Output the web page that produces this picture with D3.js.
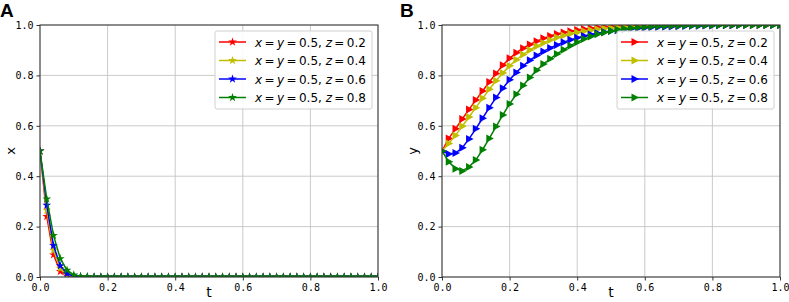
<!DOCTYPE html>
<html>
<head>
<meta charset="utf-8">
<script src="https://cdn.jsdelivr.net/npm/d3@7"></script>
<style>
  body { margin: 0; background: #fff; }
  svg { display: block; }
  .tick text { font-family: "DejaVu Sans Mono", monospace; font-size: 10px; fill: #000; }
  .legend text { font-family: "DejaVu Sans", sans-serif; font-size: 12px; }
</style>
</head>
<body>
<svg id="chart" width="789" height="302"></svg>
<script>
// sample times
const tValues = [0, 0.02, 0.04, 0.06, 0.08, 0.1, 0.12, 0.14, 0.16, 0.18, 0.2,
  0.22, 0.24, 0.26, 0.28, 0.3, 0.32, 0.34, 0.36, 0.38, 0.4,
  0.42, 0.44, 0.46, 0.48, 0.5, 0.52, 0.54, 0.56, 0.58, 0.6,
  0.62, 0.64, 0.66, 0.68, 0.7, 0.72, 0.74, 0.76, 0.78, 0.8,
  0.82, 0.84, 0.86, 0.88, 0.9, 0.92, 0.94, 0.96, 0.98, 1.0];

const seriesLabels = ['0.2', '0.4', '0.6', '0.8'];   // z values
const tickLabels = [0, 0.2, 0.4, 0.6, 0.8, 1.0];

// panel A : x(t)
const xRed = [0.5, 0.24, 0.088, 0.022, 0.004, 0.001, 0, 0, 0, 0, 0,
  0, 0, 0, 0, 0, 0, 0, 0, 0, 0, 0, 0, 0, 0, 0, 0, 0, 0, 0, 0,
  0, 0, 0, 0, 0, 0, 0, 0, 0, 0, 0, 0, 0, 0, 0, 0, 0, 0, 0, 0];
const xYellow = [0.5, 0.265, 0.106, 0.034, 0.008, 0.002, 0, 0, 0, 0, 0,
  0, 0, 0, 0, 0, 0, 0, 0, 0, 0, 0, 0, 0, 0, 0, 0, 0, 0, 0, 0,
  0, 0, 0, 0, 0, 0, 0, 0, 0, 0, 0, 0, 0, 0, 0, 0, 0, 0, 0, 0];
const xBlue = [0.5, 0.285, 0.125, 0.045, 0.013, 0.003, 0.001, 0, 0, 0, 0,
  0, 0, 0, 0, 0, 0, 0, 0, 0, 0, 0, 0, 0, 0, 0, 0, 0, 0, 0, 0,
  0, 0, 0, 0, 0, 0, 0, 0, 0, 0, 0, 0, 0, 0, 0, 0, 0, 0, 0, 0];
const xGreen = [0.5, 0.31, 0.165, 0.073, 0.027, 0.008, 0.002, 0.001, 0, 0, 0,
  0, 0, 0, 0, 0, 0, 0, 0, 0, 0, 0, 0, 0, 0, 0, 0, 0, 0, 0, 0,
  0, 0, 0, 0, 0, 0, 0, 0, 0, 0, 0, 0, 0, 0, 0, 0, 0, 0, 0, 0];

// panel B : y(t)
const yRed = [0.5, 0.55, 0.588, 0.627, 0.665, 0.702, 0.738, 0.774, 0.808, 0.84, 0.868,
  0.89, 0.908, 0.923, 0.936, 0.947, 0.956, 0.964, 0.97, 0.975, 0.98,
  0.984, 0.987, 0.99, 0.992, 0.994, 0.995, 0.996, 0.997, 0.998, 0.998,
  0.999, 0.999, 0.999, 1, 1, 1, 1, 1, 1, 1, 1, 1, 1, 1, 1, 1, 1, 1, 1, 1];
const yYellow = [0.5, 0.53, 0.562, 0.598, 0.635, 0.672, 0.709, 0.745, 0.779, 0.81, 0.838,
  0.862, 0.883, 0.901, 0.916, 0.929, 0.94, 0.95, 0.958, 0.965, 0.97,
  0.975, 0.979, 0.983, 0.986, 0.988, 0.99, 0.992, 0.993, 0.994, 0.995,
  0.996, 0.997, 0.997, 0.998, 0.998, 0.999, 0.999, 0.999, 1, 1, 1, 1, 1, 1, 1, 1, 1, 1, 1, 1];
const yBlue = [0.5, 0.488, 0.492, 0.513, 0.548, 0.588, 0.63, 0.672, 0.712, 0.749, 0.783,
  0.812, 0.838, 0.86, 0.879, 0.895, 0.909, 0.921, 0.932, 0.941, 0.949,
  0.956, 0.962, 0.967, 0.972, 0.976, 0.979, 0.982, 0.985, 0.987, 0.989,
  0.991, 0.992, 0.993, 0.994, 0.995, 0.996, 0.997, 0.997, 0.998, 0.998,
  0.999, 0.999, 0.999, 1, 1, 1, 1, 1, 1, 1];
const yGreen = [0.5, 0.457, 0.43, 0.421, 0.437, 0.464, 0.505, 0.55, 0.597, 0.643, 0.687,
  0.725, 0.76, 0.792, 0.82, 0.845, 0.866, 0.885, 0.902, 0.918, 0.932,
  0.944, 0.954, 0.963, 0.97, 0.976, 0.981, 0.985, 0.988, 0.99, 0.992,
  0.994, 0.995, 0.996, 0.997, 0.997, 0.998, 0.998, 0.999, 0.999, 0.999,
  0.999, 1, 1, 1, 1, 1, 1, 1, 1, 1];

const colors = ['#ff0000', '#bfbf00', '#0000ff', '#008000'];

const svg = d3.select('#chart');

// marker shapes
const starPath = d3.symbol().type(d3.symbolStar).size(24)();
const triPath = 'M4.5,0L-3,-4L-3,4Z';
const thin = '\u2009';

function drawPanel(cfg) {
  const x = d3.scaleLinear().domain([0, 1]).range([cfg.left, cfg.right]);
  const y = d3.scaleLinear().domain([0, 1]).range([cfg.bottom, cfg.top]);
  const g = svg.append('g');

  // panel letter
  g.append('text')
    .attr('x', cfg.letterX).attr('y', 17)
    .attr('font-family', 'Liberation Sans, Arial, sans-serif')
    .attr('font-weight', 'bold').attr('font-size', 19)
    .text(cfg.letter);

  // grid
  g.append('g').selectAll('line').data(tickLabels).join('line')
    .attr('x1', d => x(d)).attr('x2', d => x(d))
    .attr('y1', cfg.top).attr('y2', cfg.bottom)
    .attr('stroke', '#c4c4c4').attr('stroke-width', 0.9);
  g.append('g').selectAll('line').data(tickLabels).join('line')
    .attr('x1', cfg.left).attr('x2', cfg.right)
    .attr('y1', d => y(d)).attr('y2', d => y(d))
    .attr('stroke', '#c4c4c4').attr('stroke-width', 0.9);

  // axes
  const xAxis = d3.axisBottom(x).tickValues(tickLabels).tickFormat(d3.format('.1f'))
    .tickSize(3.5).tickPadding(3);
  const yAxis = d3.axisLeft(y).tickValues(tickLabels).tickFormat(d3.format('.1f'))
    .tickSize(3.5).tickPadding(3);
  g.append('g').attr('transform', `translate(0,${cfg.bottom})`).call(xAxis)
    .call(s => s.select('.domain').remove())
    .call(s => s.selectAll('line').attr('stroke', '#333'));
  g.append('g').attr('transform', `translate(${cfg.left},0)`).call(yAxis)
    .call(s => s.select('.domain').remove())
    .call(s => s.selectAll('line').attr('stroke', '#333'));

  // clip
  const clipId = 'clip' + cfg.letter;
  svg.append('clipPath').attr('id', clipId).append('rect')
    .attr('x', cfg.left).attr('y', cfg.top)
    .attr('width', cfg.right - cfg.left).attr('height', cfg.bottom - cfg.top);

  const plot = g.append('g').attr('clip-path', `url(#${clipId})`);
  const line = d3.line().x((d, i) => x(tValues[i])).y(d => y(d));

  cfg.series.forEach((vals, k) => {
    plot.append('path').datum(vals)
      .attr('d', line).attr('fill', 'none')
      .attr('stroke', colors[k]).attr('stroke-width', 1.5);
    plot.append('g').selectAll('path').data(vals).join('path')
      .attr('d', cfg.marker)
      .attr('transform', (d, i) => `translate(${x(tValues[i])},${y(d)})`)
      .attr('fill', colors[k]);
  });

  // spines
  g.append('rect')
    .attr('x', cfg.left).attr('y', cfg.top)
    .attr('width', cfg.right - cfg.left).attr('height', cfg.bottom - cfg.top)
    .attr('fill', 'none').attr('stroke', '#333').attr('stroke-width', 1);

  // axis labels
  g.append('text')
    .attr('x', (cfg.left + cfg.right) / 2).attr('y', 297)
    .attr('text-anchor', 'middle')
    .attr('font-family', 'DejaVu Sans, sans-serif').attr('font-size', 14)
    .text('t');
  g.append('text')
    .attr('transform', `translate(${cfg.yLabelX},151) rotate(-90)`)
    .attr('text-anchor', 'middle')
    .attr('font-family', 'DejaVu Sans, sans-serif').attr('font-size', 13)
    .text(cfg.yLabel);

  // legend
  const lg = g.append('g').attr('class', 'legend');
  lg.append('rect')
    .attr('x', cfg.legendX).attr('y', 31)
    .attr('width', 157).attr('height', 78).attr('rx', 2)
    .attr('fill', 'rgba(255,255,255,0.85)').attr('stroke', '#d0d0d0');
  seriesLabels.forEach((z, k) => {
    const ry = 42 + k * 18.5;
    lg.append('line')
      .attr('x1', cfg.legendX + 4).attr('x2', cfg.legendX + 31)
      .attr('y1', ry).attr('y2', ry)
      .attr('stroke', colors[k]).attr('stroke-width', 1.5);
    lg.append('path').attr('d', cfg.marker)
      .attr('transform', `translate(${cfg.legendX + 17.5},${ry})`)
      .attr('fill', colors[k]);
    const t = lg.append('text').attr('x', cfg.legendX + 40).attr('y', ry + 4.5);
    t.append('tspan').attr('font-style', 'italic').text('x');
    t.append('tspan').text(thin + '=' + thin);
    t.append('tspan').attr('font-style', 'italic').text('y');
    t.append('tspan').text(thin + '=' + thin + '0.5, ');
    t.append('tspan').attr('font-style', 'italic').text('z');
    t.append('tspan').text(thin + '=' + thin + z);
  });
}

drawPanel({
  letter: 'A', letterX: 0, left: 40, right: 378, top: 25, bottom: 277,
  yLabel: 'x', yLabelX: 15, legendX: 215,
  marker: starPath, series: [xRed, xYellow, xBlue, xGreen]
});
drawPanel({
  letter: 'B', letterX: 400, left: 442, right: 780, top: 25, bottom: 277,
  yLabel: 'y', yLabelX: 417, legendX: 617,
  marker: triPath, series: [yRed, yYellow, yBlue, yGreen]
});
</script>
</body>
</html>
